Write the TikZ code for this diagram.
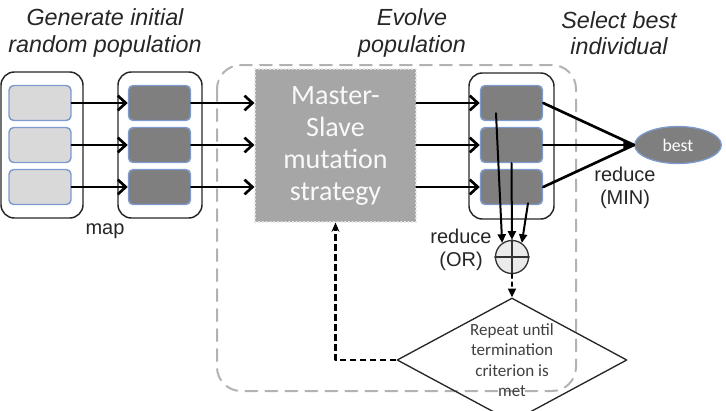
\documentclass[tikz,border=0pt]{standalone}
\usepackage{fontspec}
\setmainfont{Liberation Sans}
\newfontfamily\calfont{Carlito}
\usetikzlibrary{arrows.meta,calc,shapes.geometric}

\definecolor{cellblue}{RGB}{125,155,205}
\definecolor{lightcell}{RGB}{217,217,217}
\definecolor{darkcell}{RGB}{127,127,127}
\definecolor{masterfill}{RGB}{166,166,166}
\definecolor{evolvegray}{RGB}{178,178,178}
\definecolor{labelgray}{RGB}{38,38,38}

\begin{document}
\begin{tikzpicture}[x=0.75pt,y=-0.75pt,>=Stealth,line cap=round,line join=round,
    heading/.style={font=\fontsize{17.5}{20}\selectfont\itshape,text=labelgray,align=center},
    note/.style={font=\fontsize{15}{17}\selectfont,text=labelgray,align=center},
    pop/.style={draw=black!85,line width=1.1pt,rounded corners=10pt,minimum height=109.5pt},
    cell/.style={draw=cellblue,line width=1.1pt,rounded corners=3.5pt,
      minimum width=46.5pt,minimum height=26.25pt,inner sep=0pt},
    flow/.style={line width=2pt,-{Straight Barb[length=6pt,width=11pt]}},
    gather/.style={line width=1.5pt,-{Triangle[length=6.5pt,width=6pt]}}]
    \useasboundingbox (0,0) rectangle (726,411);

    % The region of the evolution loop.
    \draw[evolvegray,line width=1.5pt,dash pattern=on 9pt off 6pt,rounded corners=18pt]
      (217,65) rectangle (576,391);

    % The three populations.
    \node[pop,minimum width=61.5pt] (lpop) at (42,145) {};
    \node[pop,minimum width=63pt] (mpop) at (160,145) {};
    \node[pop,minimum width=63.75pt] (rpop) at (511.5,146) {};
    \foreach \i/\y in {1/103,2/145,3/187} {
      \node[cell,fill=lightcell] (lcell\i) at (40,\y) {};
      \node[cell,fill=darkcell] (mcell\i) at (159.5,\y) {};
      \node[cell,fill=darkcell] (rcell\i) at (511.5,\y) {};
    }

    % The mutation strategy.
    \node[fill=masterfill,draw=white!80!gray,dotted,line width=.8pt,
      minimum width=120.75pt,minimum height=114.75pt,text=white!95!gray,align=center,
      font=\calfont\fontsize{21}{24}\selectfont] (master) at (335.5,145.5)
      {\raisebox{-4pt}{\parbox{110pt}{\centering Master-\\Slave\\mutation\\strategy}}};

    % The best individual and the test.
    \node[ellipse,fill=darkcell,draw=cellblue,line width=1pt,minimum width=65pt,
      minimum height=27.75pt,text=white,font=\calfont\fontsize{13.3}{16}\selectfont]
      (best) at (678,145) {best};
    \node[circle,fill=black!8,draw=black!80,line width=1pt,minimum size=24.75pt,
      inner sep=0pt] (orop) at (512,257) {};
    \draw[black!80,line width=1pt] (orop.north) -- (orop.south) (orop.west) -- (orop.east);
    \node[diamond,draw=black!85,line width=1pt,aspect=1.85,inner sep=0pt,
      minimum width=172.5pt,minimum height=93pt,text=black!75,align=center,
      font=\calfont\fontsize{12.8}{15.4}\selectfont] (until) at (512,360)
      {Repeat until\\termination\\criterion is\\met};

    % Map, mutate and pass on.
    \foreach \i in {1,2,3} {
      \draw[flow] (lcell\i) -- (mcell\i);
      \draw[flow] (mcell\i.east) -- (mcell\i.east -| master.west);
      \draw[flow] (master.east |- rcell\i) -- (rcell\i.west);
    }

    % Reduce to the best.
    \coordinate (conv) at (best.west);
    \draw[line width=2pt] (rcell1.east) -- (conv);
    \draw[line width=2pt] (rcell3.east) -- (conv);
    \draw[line width=2pt,-{Triangle[length=8pt,width=8pt]}] (rcell2.east) -- (conv);

    % Reduce to the test.
    \draw[gather] ($(rcell1.south)+(-15.5,-8)$) -- (orop.125);
    \draw[gather] (rcell2.south) -- (orop.north);
    \draw[gather] ($(rcell3.south)+(16.5,-2)$) -- (orop.55);
    \draw[gather,dashed,line width=1.1pt] (orop.south) -- (until.north);

    % Back to the mutation.
    \draw[line width=1.75pt,dash pattern=on 5pt off 2.5pt,line cap=butt,
      -{Stealth[length=7pt,width=6pt]}] (until.west) -| (master.south);

    \node[heading] (gentitle) at (105,33) {Generate initial\\random population};
    \node[heading] (evotitle) at (412,33) {Evolve\\population};
    \node[heading] (seltitle) at (619,33) {Select best\\individual};
    \node[note] (maplabel) at (105,231) {map};
    \node[note] (minlabel) at (625,188) {reduce\\(MIN)};
    \node[note] (orlabel) at (461,250) {reduce\\(OR)};
  \end{tikzpicture}
\end{document}
